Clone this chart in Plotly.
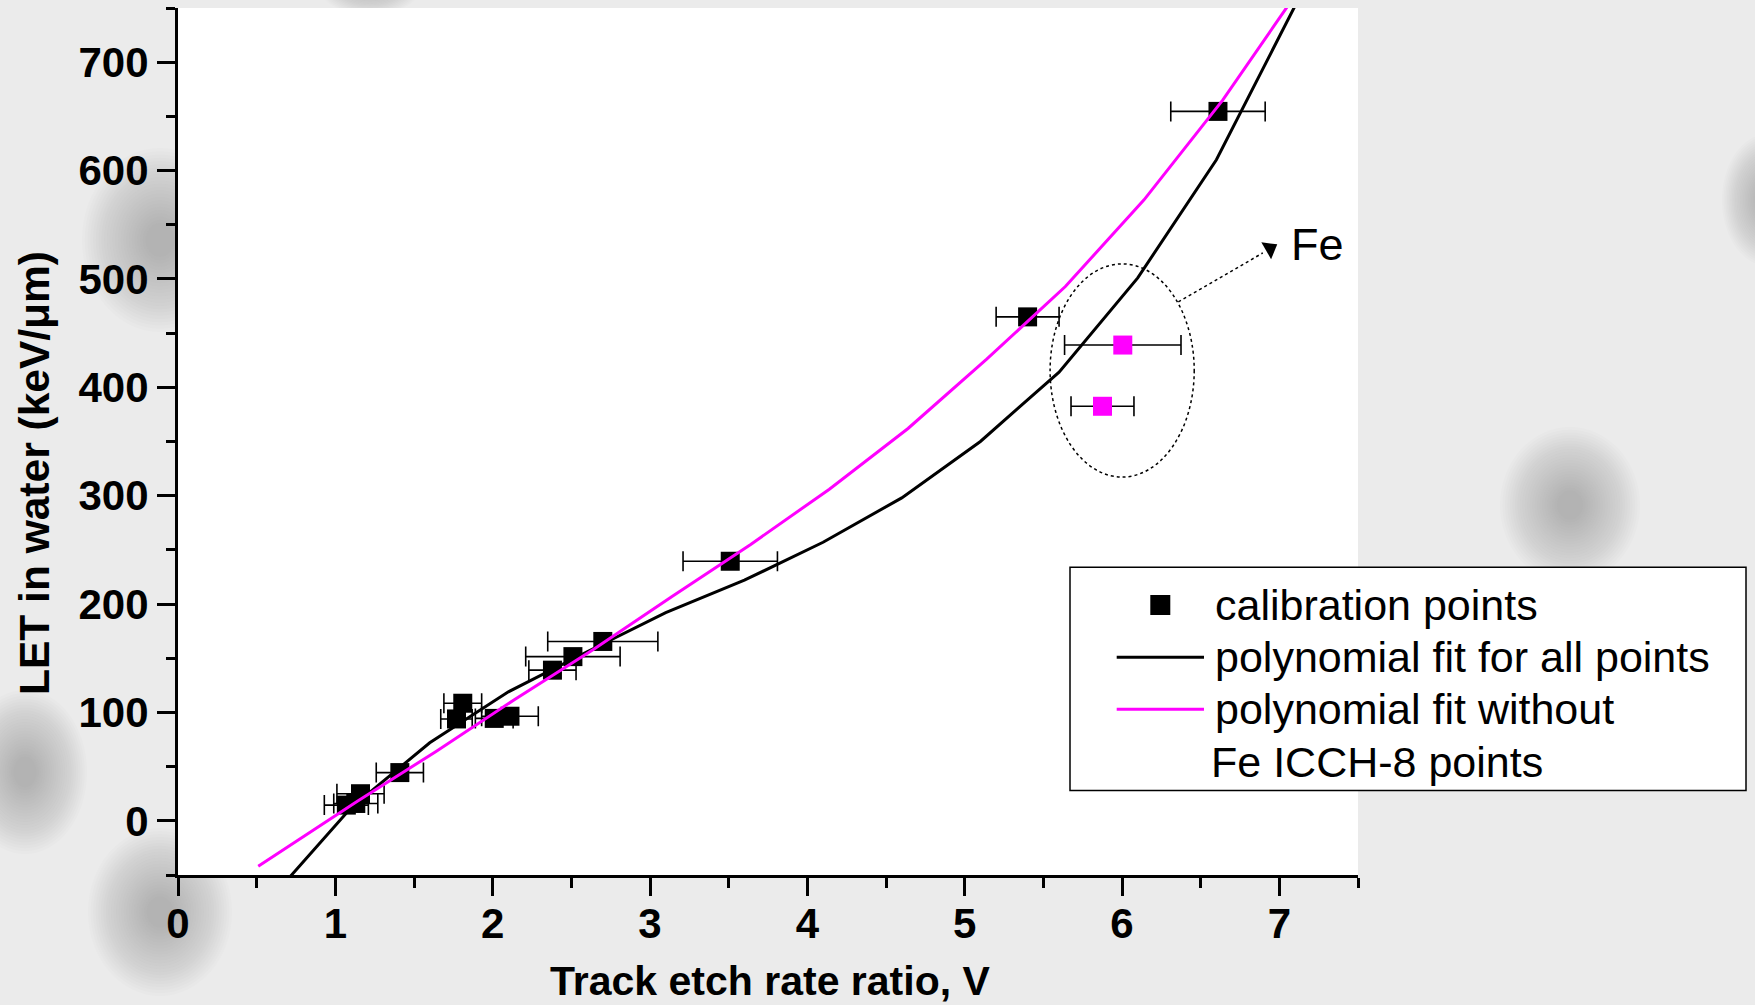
import plotly.graph_objects as go

# ---------------- data ----------------
calib_x = [1.07, 1.13, 1.16, 1.41, 1.77, 1.81, 2.01, 2.11, 2.38, 2.51, 2.70, 3.51, 5.40, 6.61]
calib_y = [14.5, 16.0, 25.0, 44.5, 94.0, 108.5, 94.5, 96.5, 139.0, 151.5, 165.5, 239.5, 465.0, 654.6]
calib_xerr = [0.14, 0.14, 0.15, 0.15, 0.10, 0.12, 0.12, 0.18, 0.15, 0.30, 0.35, 0.30, 0.20, 0.30]

fe_x = [6.005, 5.876]
fe_y = [439.0, 382.5]
fe_xerr = [0.37, 0.20]

fit_all_x = [0.6, 1.1, 1.6, 2.1, 2.6, 3.1, 3.6, 4.1, 4.6, 5.1, 5.6, 6.1, 6.6, 7.1]
fit_all_y = [-70, 12, 72, 119, 156, 192, 222, 257, 298, 350, 414, 501, 610, 752]

fit_nofe_x = [0.51, 1.14, 1.64, 2.14, 2.64, 3.14, 3.64, 4.14, 4.64, 5.14, 5.64, 6.14, 6.64, 7.14]
fit_nofe_y = [-42, 18, 64, 112, 158, 207, 255, 306, 362, 426, 493, 573, 665, 770]

x_ticks = [0, 1, 2, 3, 4, 5, 6, 7]
y_ticks = [0, 100, 200, 300, 400, 500, 600, 700]

legend_labels = ["calibration points", "polynomial fit for all points",
                 "polynomial fit without", "Fe ICCH-8 points"]

# Fe annotation geometry (data coords)
fe_ellipse = dict(x0=5.543, x1=6.459, y0=317.2, y1=513.9)
fe_arrow_tail = (6.358, 478.8)
fe_arrow_base = (6.895, 524.0)
fe_arrow_head = (6.94, 528.0)
fe_label_pos = (7.24, 531.7)

# ---------------- layout constants ----------------
W, H = 1755, 1005
ML, MR, MT, MB = 178, 397, 8, 130
PW = W - ML - MR
PH = H - MT - MB
FONT = "Liberation Sans, Arial, Helvetica, sans-serif"
MAGENTA = "#ff00ff"


def px(xp):
    return (xp - ML) / PW


def py(yp):
    return (H - MB - yp) / PH


fig = go.Figure()

fig.add_trace(go.Scatter(
    x=calib_x, y=calib_y, mode="markers",
    marker=dict(symbol="square", size=19, color="black", line=dict(width=0)),
    error_x=dict(type="data", array=calib_xerr, color="black", thickness=1.6, width=10),
    showlegend=False, cliponaxis=False))

fig.add_trace(go.Scatter(
    x=fe_x, y=fe_y, mode="markers",
    marker=dict(symbol="square", size=19, color=MAGENTA, line=dict(width=0)),
    error_x=dict(type="data", array=fe_xerr, color="black", thickness=1.6, width=10),
    showlegend=False))

fig.add_trace(go.Scatter(
    x=fit_all_x, y=fit_all_y, mode="lines",
    line=dict(color="black", width=3), showlegend=False))

fig.add_trace(go.Scatter(
    x=fit_nofe_x, y=fit_nofe_y, mode="lines",
    line=dict(color=MAGENTA, width=3), showlegend=False))

# arrow head for the Fe pointer
fig.add_trace(go.Scatter(
    x=[fe_arrow_head[0]], y=[fe_arrow_head[1]], mode="markers",
    marker=dict(symbol="triangle-up", size=17, color="black", angle=60),
    showlegend=False, hoverinfo="skip"))

shapes = []

# blurry background blobs
blobs = [
    (160, 240, 78, 92),
    (25, 772, 62, 82),
    (160, 912, 72, 84),
    (1570, 505, 70, 78),
    (1768, 200, 46, 66),
    (370, -22, 55, 38),
]
for cx, cy, rx, ry in blobs:
    n = 24
    for i in range(n):
        f = 1.0 - i / n * 0.85
        shapes.append(dict(
            type="circle", xref="paper", yref="paper", layer="below",
            x0=px(cx - rx * f), x1=px(cx + rx * f),
            y0=py(cy + ry * f), y1=py(cy - ry * f),
            fillcolor="#707070", opacity=0.024, line=dict(width=0)))

# white plotting area
shapes.append(dict(type="rect", xref="paper", yref="paper", layer="below",
                   x0=0, x1=1, y0=0, y1=1, fillcolor="white", line=dict(width=0)))

# Fe ellipse and dotted pointer
shapes.append(dict(type="circle", xref="x", yref="y", layer="above",
                   line=dict(color="black", width=1.5, dash="dot"), **fe_ellipse))
shapes.append(dict(type="line", xref="x", yref="y", layer="above",
                   x0=fe_arrow_tail[0], y0=fe_arrow_tail[1],
                   x1=fe_arrow_base[0], y1=fe_arrow_base[1],
                   line=dict(color="black", width=1.5, dash="dot")))

# legend box
shapes.append(dict(type="rect", xref="paper", yref="paper", layer="below",
                   x0=px(1070), x1=px(1746), y0=py(790.5), y1=py(567.3),
                   fillcolor="white", line=dict(color="black", width=1.5)))
shapes.append(dict(type="rect", xref="paper", yref="paper", layer="above",
                   x0=px(1150.3), x1=px(1170.3), y0=py(615), y1=py(595),
                   fillcolor="black", line=dict(width=0)))
shapes.append(dict(type="line", xref="paper", yref="paper", layer="above",
                   x0=px(1116.7), x1=px(1204), y0=py(657.3), y1=py(657.3),
                   line=dict(color="black", width=3)))
shapes.append(dict(type="line", xref="paper", yref="paper", layer="above",
                   x0=px(1116.7), x1=px(1204), y0=py(709.3), y1=py(709.3),
                   line=dict(color=MAGENTA, width=3)))

annotations = []
leg_y = [605, 657.3, 709.3, 761.5]
leg_x = [1213, 1213, 1213, 1209]
for lab, lx, ly in zip(legend_labels, leg_x, leg_y):
    annotations.append(dict(text=lab, xref="paper", yref="paper", x=px(lx), y=py(ly),
                            xanchor="left", yanchor="middle", showarrow=False,
                            font=dict(family=FONT, size=43, color="black")))

annotations.append(dict(text="Fe", xref="x", yref="y", x=fe_label_pos[0], y=fe_label_pos[1],
                        xanchor="center", yanchor="middle", showarrow=False,
                        font=dict(family=FONT, size=45, color="black")))

annotations.append(dict(text="Track etch rate ratio, V", xref="paper", yref="paper",
                        x=px(770), y=py(981), xanchor="center", yanchor="middle",
                        showarrow=False,
                        font=dict(family=FONT, size=41, color="black", weight="bold")))
annotations.append(dict(text="LET in water (keV/\u03bcm)", xref="paper", yref="paper",
                        x=px(34), y=py(473), xanchor="center", yanchor="middle",
                        textangle=-90, showarrow=False,
                        font=dict(family=FONT, size=42.5, color="black", weight="bold")))

axis_common = dict(
    showline=True, linecolor="black", linewidth=3,
    ticks="outside", ticklen=18, tickwidth=3, tickcolor="black",
    showgrid=False, zeroline=False,
    tickfont=dict(family=FONT, size=42, color="black", weight="bold"),
)

fig.update_layout(
    width=W, height=H,
    margin=dict(l=ML, r=MR, t=MT, b=MB, pad=0),
    paper_bgcolor="#ebebeb", plot_bgcolor="rgba(0,0,0,0)",
    showlegend=False,
    xaxis=dict(range=[0, 7.5], tickvals=x_ticks, ticktext=[str(v) for v in x_ticks],
               ticklabelstandoff=-8,
               minor=dict(dtick=0.5, tick0=0, ticklen=10, tickwidth=3, tickcolor="black",
                          ticks="outside"),
               **axis_common),
    yaxis=dict(range=[-50, 750], tickvals=y_ticks, ticktext=[str(v) for v in y_ticks],
               minor=dict(dtick=50, tick0=0, ticklen=9, tickwidth=3, tickcolor="black",
                          ticks="outside"),
               **axis_common),
    shapes=shapes, annotations=annotations,
)

fig.write_html("out.html", config={"displayModeBar": False},
               post_script="document.body.style.margin='0px';document.body.style.overflow='hidden';")
